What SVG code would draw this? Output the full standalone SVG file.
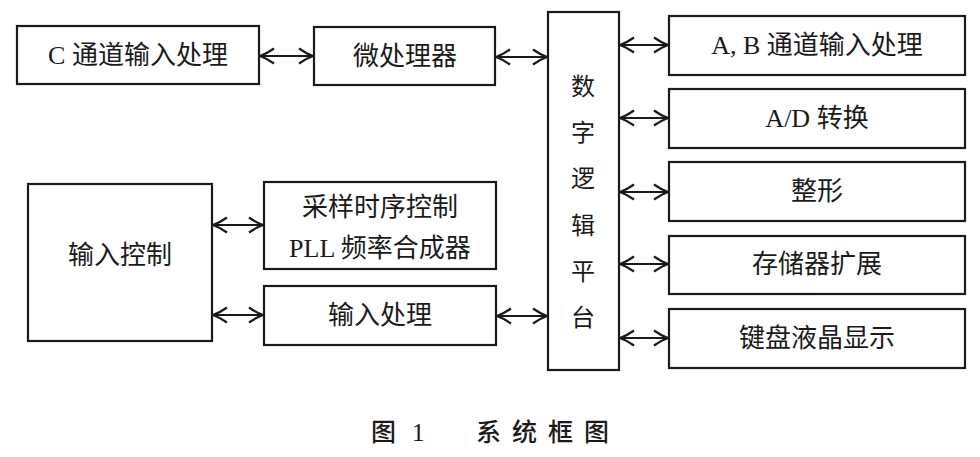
<svg xmlns="http://www.w3.org/2000/svg" width="980" height="457" viewBox="0 0 980 457">
<style>
.box{fill:#fff;stroke:#1a1a1a;stroke-width:2.2}
.t{font-family:"Liberation Serif","Noto Sans CJK SC",serif;font-size:26px;fill:#1a1a1a;text-anchor:middle;dominant-baseline:central}
.v{font-size:24px}
.cap{font-family:"Liberation Serif","Noto Sans CJK SC",serif;font-size:25px;font-weight:500;fill:#1a1a1a;dominant-baseline:central}
.c{stroke:#1a1a1a;stroke-width:2;fill:none;marker-start:url(#ah);marker-end:url(#ah)}
</style>
<defs>
<marker id="ah" viewBox="-16 -10 18 20" markerWidth="18" markerHeight="20" refX="0" refY="0" markerUnits="userSpaceOnUse" orient="auto-start-reverse">
<path d="M-14,-7.5 Q-7,-2.5 0,0 Q-7,2.5 -14,7.5" fill="none" stroke="#1a1a1a" stroke-width="2.2"/>
</marker>
</defs>
<rect width="980" height="457" fill="#fff"/>
<g id="connectors">
<line class="c" x1="260" y1="56" x2="313" y2="56"/>
<line class="c" x1="496" y1="57" x2="547" y2="57"/>
<line class="c" x1="620" y1="45" x2="668" y2="45"/>
<line class="c" x1="620" y1="118" x2="668" y2="118"/>
<line class="c" x1="620" y1="192" x2="668" y2="192"/>
<line class="c" x1="620" y1="264" x2="668" y2="264"/>
<line class="c" x1="620" y1="338" x2="668" y2="338"/>
<line class="c" x1="213" y1="225" x2="263" y2="225"/>
<line class="c" x1="213" y1="315" x2="263" y2="315"/>
<line class="c" x1="497" y1="316" x2="547" y2="316"/>
</g>
<g id="c-input">
<rect class="box" x="17" y="26" width="242" height="58"/>
<text class="t" x="138" y="55">C 通道输入处理</text>
</g>
<g id="mcu">
<rect class="box" x="314" y="27" width="181" height="58"/>
<text class="t" x="405" y="56">微处理器</text>
</g>
<g id="platform">
<rect class="box" x="548" y="12" width="71" height="358"/>
<text class="t v" x="583" y="87">数</text>
<text class="t v" x="583" y="133">字</text>
<text class="t v" x="583" y="179">逻</text>
<text class="t v" x="583" y="226">辑</text>
<text class="t v" x="583" y="272">平</text>
<text class="t v" x="583" y="318">台</text>
</g>
<g id="ab-input">
<rect class="box" x="669" y="16" width="296" height="59"/>
<text class="t" x="817" y="45">A, B 通道输入处理</text>
</g>
<g id="adc">
<rect class="box" x="669" y="89" width="296" height="59"/>
<text class="t" x="817" y="118">A/D 转换</text>
</g>
<g id="shaping">
<rect class="box" x="669" y="162" width="296" height="59"/>
<text class="t" x="817" y="191">整形</text>
</g>
<g id="memory">
<rect class="box" x="669" y="236" width="296" height="58"/>
<text class="t" x="817" y="264">存储器扩展</text>
</g>
<g id="keyboard">
<rect class="box" x="669" y="309" width="296" height="59"/>
<text class="t" x="817" y="338">键盘液晶显示</text>
</g>
<g id="input-control">
<rect class="box" x="28" y="184" width="184" height="157"/>
<text class="t" x="120" y="255">输入控制</text>
</g>
<g id="sampling">
<rect class="box" x="264" y="182" width="232" height="87"/>
<text class="t" x="380" y="207">采样时序控制</text>
<text class="t" x="380" y="248">PLL 频率合成器</text>
</g>
<g id="input-proc">
<rect class="box" x="264" y="286" width="232" height="59"/>
<text class="t" x="380" y="315">输入处理</text>
</g>
<g id="caption">
<text class="cap" x="371" y="432">图</text>
<text class="cap" x="412" y="432">1</text>
<text class="cap" x="476" y="432" letter-spacing="11">系统框图</text>
</g>
</svg>
